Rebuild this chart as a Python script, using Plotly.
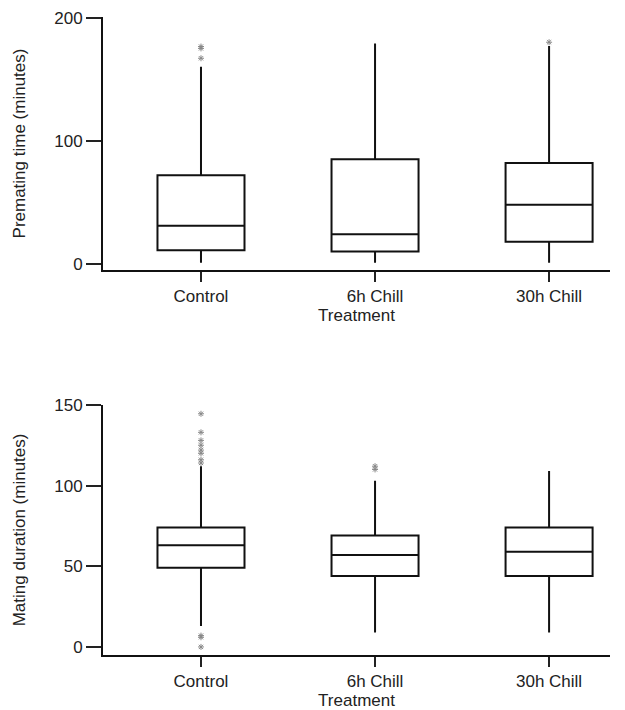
import plotly.graph_objects as go
from plotly.subplots import make_subplots

categories = ["Control", "6h Chill", "30h Chill"]
xpos = [0, 1, 2]

# Premating time (minutes)
pre_q1 = [11, 10, 18]
pre_median = [31, 24, 48]
pre_q3 = [72, 85, 82]
pre_low = [1, 1, 1]
pre_high = [160, 179, 177]
pre_out_x = [0, 0, 0, 2]
pre_out_y = [176.5, 175, 167, 180]

# Mating duration (minutes)
mat_q1 = [49, 44, 44]
mat_median = [63, 57, 59]
mat_q3 = [74, 69, 74]
mat_low = [13, 9, 9]
mat_high = [112, 103, 109]
mat_out_x = [0, 0, 0, 0, 0, 0, 0, 0, 0, 0, 0, 1, 1]
mat_out_y = [144.5, 133, 128, 125, 122, 120, 116, 7, 6, 0, 114, 110, 112]

fig = make_subplots(rows=2, cols=1, vertical_spacing=0.2)

def add_panel(row, q1, med, q3, lo, hi, ox, oy):
    fig.add_trace(go.Box(
        x=xpos, q1=q1, median=med, q3=q3, lowerfence=lo, upperfence=hi,
        width=0.5, whiskerwidth=0, boxpoints=False,
        fillcolor="white", line=dict(color="#111", width=2),
        showlegend=False, hoverinfo="skip"), row=row, col=1)
    fig.add_trace(go.Scatter(
        x=ox, y=oy, mode="markers",
        marker=dict(symbol="asterisk-open", size=5,
                    line=dict(color="#888", width=1), color="#888"),
        showlegend=False, hoverinfo="skip"), row=row, col=1)

add_panel(1, pre_q1, pre_median, pre_q3, pre_low, pre_high, pre_out_x, pre_out_y)
add_panel(2, mat_q1, mat_median, mat_q3, mat_low, mat_high, mat_out_x, mat_out_y)

font = dict(family="Liberation Sans, Arial, sans-serif", size=17, color="#222")

xcommon = dict(range=[-0.563, 2.35], tickvals=xpos, ticktext=categories,
               showline=True, linecolor="#111", linewidth=2,
               ticks="outside", ticklen=10, tickwidth=1.5, tickcolor="#222",
               showgrid=False, zeroline=False, automargin=False,
               ticklabeloverflow="allow",
               title=dict(text="Treatment", standoff=4, font=font),
               tickfont=font)
ycommon = dict(showline=True, linecolor="#111", linewidth=2,
               ticks="outside", ticklen=15, tickwidth=1.5, tickcolor="#222",
               showgrid=False, zeroline=False, automargin=False,
               ticklabeloverflow="allow", tickfont=font)

fig.update_xaxes(**xcommon, row=1, col=1)
fig.update_xaxes(**xcommon, row=2, col=1)
fig.update_yaxes(**ycommon, range=[-5, 200.5], tickvals=[0, 100, 200],
                 title=dict(text="Premating time (minutes)", standoff=24, font=font),
                 domain=[0.6034, 1], row=1, col=1)
fig.update_yaxes(**ycommon, range=[-5, 150], tickvals=[0, 50, 100, 150],
                 title=dict(text="Mating duration (minutes)", standoff=24, font=font),
                 domain=[0, 0.392], row=2, col=1)

fig.update_layout(width=617, height=702, margin=dict(l=95, r=15, t=9, b=55),
                  plot_bgcolor="white", paper_bgcolor="white", font=font)

fig.write_html("out.html")
